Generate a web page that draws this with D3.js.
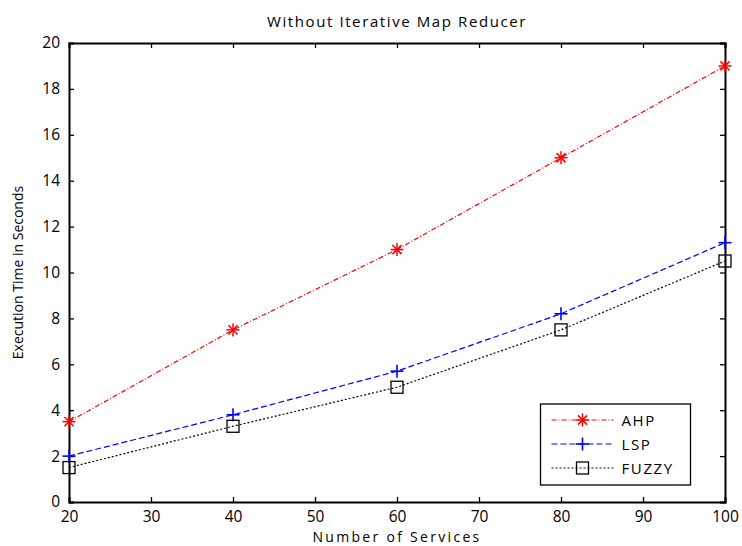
<!DOCTYPE html>
<html>
<head>
<meta charset="utf-8">
<script src="https://cdn.jsdelivr.net/npm/d3@7"></script>
<style>
body { margin: 0; background: #fff; }
svg text { font-family: "Open Sans", sans-serif; fill: #000; }
</style>
</head>
<body>
<div id="chart"></div>
<script>
var services = [20, 40, 60, 80, 100];
var ahp = [3.5, 7.5, 11, 15, 19];
var lsp = [2, 3.8, 5.7, 8.2, 11.3];
var fuzzy = [1.5, 3.3, 5, 7.5, 10.5];
var xTicks = [20, 30, 40, 50, 60, 70, 80, 90, 100];
var yTicks = [0, 2, 4, 6, 8, 10, 12, 14, 16, 18, 20];
var seriesNames = ["AHP", "LSP", "FUZZY"];

var W = 742, H = 546;
var margin = {left: 69, right: 17, top: 43, bottom: 44};
var w = W - margin.left - margin.right,
	h = H - margin.top - margin.bottom;

var svg = d3.select("#chart").append("svg")
	.attr("width", W)
	.attr("height", H);

var g = svg.append("g")
	.attr("transform", "translate(" + margin.left + "," + margin.top + ")");

var x = d3.scaleLinear().domain([20, 100]).range([0, w]);
var y = d3.scaleLinear().domain([0, 20]).range([h, 0]);

// axes, ticks pointing in
var tickLen = 5;
g.append("g").attr("transform", "translate(0," + h + ")")
	.call(d3.axisBottom(x).tickValues(xTicks).tickSize(-tickLen).tickPadding(9))
	.attr("class", "axis");
g.append("g")
	.call(d3.axisTop(x).tickValues(xTicks).tickSize(-tickLen).tickFormat(""))
	.attr("class", "axis");
g.append("g")
	.call(d3.axisLeft(y).tickValues(yTicks).tickSize(-tickLen).tickPadding(9))
	.attr("class", "axis");
g.append("g").attr("transform", "translate(" + w + ",0)")
	.call(d3.axisRight(y).tickValues(yTicks).tickSize(-tickLen).tickFormat(""))
	.attr("class", "axis");

g.selectAll(".axis .domain").attr("stroke", "#000").attr("stroke-width", 2);
g.selectAll(".axis .tick line").attr("stroke", "#000").attr("stroke-width", 1.3);
g.selectAll(".axis text").style("font-size", "15.5px").attr("fill", "#000");

var line = d3.line()
	.x(function(d, i) { return x(services[i]); })
	.y(function(d) { return y(d); });

function star(sel, cx, cy, col) {
	var r = 6.5;
	var s = sel.append("g").attr("transform", "translate(" + cx + "," + cy + ")");
	[0, 45, 90, 135].forEach(function(a) {
		var rad = a * Math.PI / 180;
		s.append("line")
			.attr("x1", -r * Math.cos(rad)).attr("y1", -r * Math.sin(rad))
			.attr("x2", r * Math.cos(rad)).attr("y2", r * Math.sin(rad))
			.style("stroke", col).style("stroke-width", 1.5);
	});
}
function plus(sel, cx, cy, col) {
	var r = 6.5;
	sel.append("line").attr("x1", cx - r).attr("y1", cy).attr("x2", cx + r).attr("y2", cy)
		.style("stroke", col).style("stroke-width", 1.6);
	sel.append("line").attr("x1", cx).attr("y1", cy - r).attr("x2", cx).attr("y2", cy + r)
		.style("stroke", col).style("stroke-width", 1.6);
}
function square(sel, cx, cy, col) {
	sel.append("rect").attr("x", cx - 6).attr("y", cy - 6).attr("width", 12).attr("height", 12)
		.style("fill", "none").style("stroke", col).style("stroke-width", 1.3);
}

var series = [
	{name: seriesNames[0], values: ahp, color: "#ff0000", dash: "5,2,1,2", marker: star},
	{name: seriesNames[1], values: lsp, color: "#0000ff", dash: "6,3", marker: plus},
	{name: seriesNames[2], values: fuzzy, color: "#000000", dash: "2,2", marker: square}
];

series.forEach(function(s) {
	g.append("path")
		.datum(s.values)
		.attr("d", line)
		.style("fill", "none")
		.style("stroke", s.color)
		.style("stroke-width", 1.2)
		.style("stroke-dasharray", s.dash);
	s.values.forEach(function(v, i) {
		s.marker(g, x(services[i]), y(v), s.color);
	});
});

// legend
var legend = g.append("g")
	.attr("transform", "translate(" + (540.5 - margin.left) + "," + (404 - margin.top) + ")");
legend.append("rect")
	.attr("width", 150)
	.attr("height", 81)
	.style("fill", "#fff")
	.style("stroke", "#000")
	.style("stroke-width", 1.3);

series.forEach(function(s, i) {
	var ly = 16 + i * 24;
	legend.append("line")
		.attr("x1", 11).attr("y1", ly).attr("x2", 73).attr("y2", ly)
		.style("stroke", s.color)
		.style("stroke-width", 1.2)
		.style("stroke-dasharray", s.dash);
	s.marker(legend, 42, ly, s.color);
	legend.append("text")
		.attr("x", 81)
		.attr("y", ly + 5.5)
		.text(s.name)
		.style("font-size", "15px")
		.style("letter-spacing", "1.6px");
});

// labels
svg.append("text")
	.attr("x", margin.left + w / 2)
	.attr("y", 27)
	.attr("text-anchor", "middle")
	.text("Without Iterative Map Reducer")
	.style("font-size", "15px")
	.style("letter-spacing", "1.6px");

svg.append("text")
	.attr("x", margin.left + w / 2)
	.attr("y", 541.5)
	.attr("text-anchor", "middle")
	.text("Number of Services")
	.style("font-size", "14px")
	.style("letter-spacing", "2.3px");

svg.append("text")
	.attr("transform", "translate(23," + (margin.top + h / 2) + ") rotate(-90)")
	.attr("text-anchor", "middle")
	.text("Execution Time in Seconds")
	.style("font-size", "14px");
</script>
</body>
</html>
